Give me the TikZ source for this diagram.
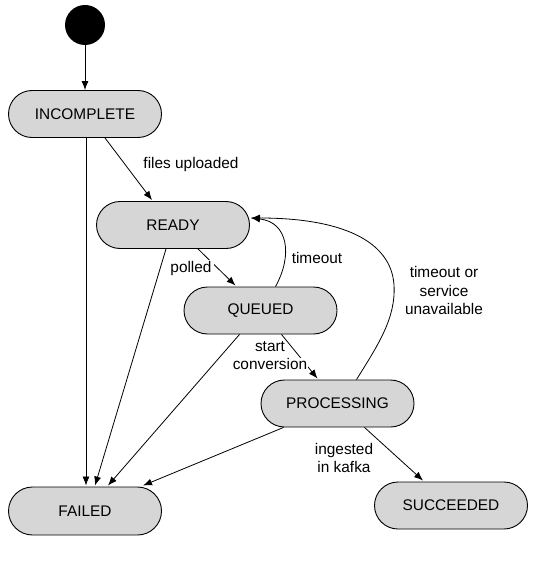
\documentclass[tikz,border=0pt]{standalone}
\usepackage{fontspec}
\setmainfont{Liberation Sans}
\usetikzlibrary{arrows.meta,calc}
\definecolor{stfill}{RGB}{214,214,214}
\begin{document}
\begin{tikzpicture}[x=1pt,y=-1pt,
  state/.style={draw=black,line width=0.9pt,fill=stfill,rounded corners=23.5pt,
    minimum width=153pt,minimum height=47pt,inner sep=0pt,
    font=\fontsize{15.4}{18.5}\selectfont},
  lbl/.style={font=\fontsize{15.4}{18.5}\selectfont,align=center,inner sep=0pt},
  tr/.style={draw=black,line width=0.8pt,-{Latex[length=9pt,width=7pt]}}]
\useasboundingbox (0,0) rectangle (556,564);
\node[circle,fill=black,minimum size=40pt,inner sep=0pt] (start) at (85,25) {};
\node[state] (inc) at (85,114) {INCOMPLETE};
\node[state] (ready) at (173,225) {READY};
\node[state] (queued) at (260.5,310.5) {QUEUED};
\node[state] (proc) at (337.5,403.5) {PROCESSING};
\node[state,minimum height=48pt,rounded corners=24pt] (failed) at (85,511) {FAILED};
\node[state] (succ) at (451,505.5) {SUCCEEDED};

\coordinate (rin) at ($(ready.east)+(1,-7)$);

\draw[tr] (start) -- (inc);
\draw[tr] ($(inc.south)+(1,0)$) -- ($(failed.north)+(1,-1)$);
\draw[tr] ($(inc.south)+(20,0)$) -- ($(ready.north)+(-21,-1)$);
\draw[tr] ($(ready.south)+(-7,0)$) -- ($(failed.north)+(10,-1)$);
\draw[tr] ($(ready.south)+(25,0)$) -- ($(queued.north)+(-25,-1)$);
\draw[tr] ($(queued.south)+(-21,0)$) -- ($(failed.north)+(23,-1)$);
\draw[tr] ($(queued.south)+(21,0)$) -- ($(proc.north)+(-20,-1)$);
\draw[tr] ($(proc.south)+(-54,0)$) -- ($(failed.north)+(58,-1)$);
\draw[tr] ($(proc.south)+(27,0)$) -- ($(succ.north)+(-28,-1)$);

\draw[tr] ($(queued.north)+(15,0)$) .. controls (293,255) and (288,222) .. (rin);
\draw[tr] ($(proc.north)+(19,0)$) .. controls (378,345) and (396,318) .. (394,285)
   .. controls (391,240) and (340,218) .. (rin);

\node[lbl] (l1) at (191,165) {files uploaded};
\node[lbl,fill=white,inner sep=2pt] (l2) at (191,269) {polled};
\node[lbl] (l3) at (317,258) {timeout};
\node[lbl] (l4) at (444,290.5) {timeout or\\service\\unavailable};
\node[lbl] (l5) at (270,356) {start\\{\setlength{\fboxsep}{0.5pt}\colorbox{white}{conversion}}};
\node[lbl] (l6) at (344,458) {ingested\\in kafka};
\end{tikzpicture}
\end{document}
